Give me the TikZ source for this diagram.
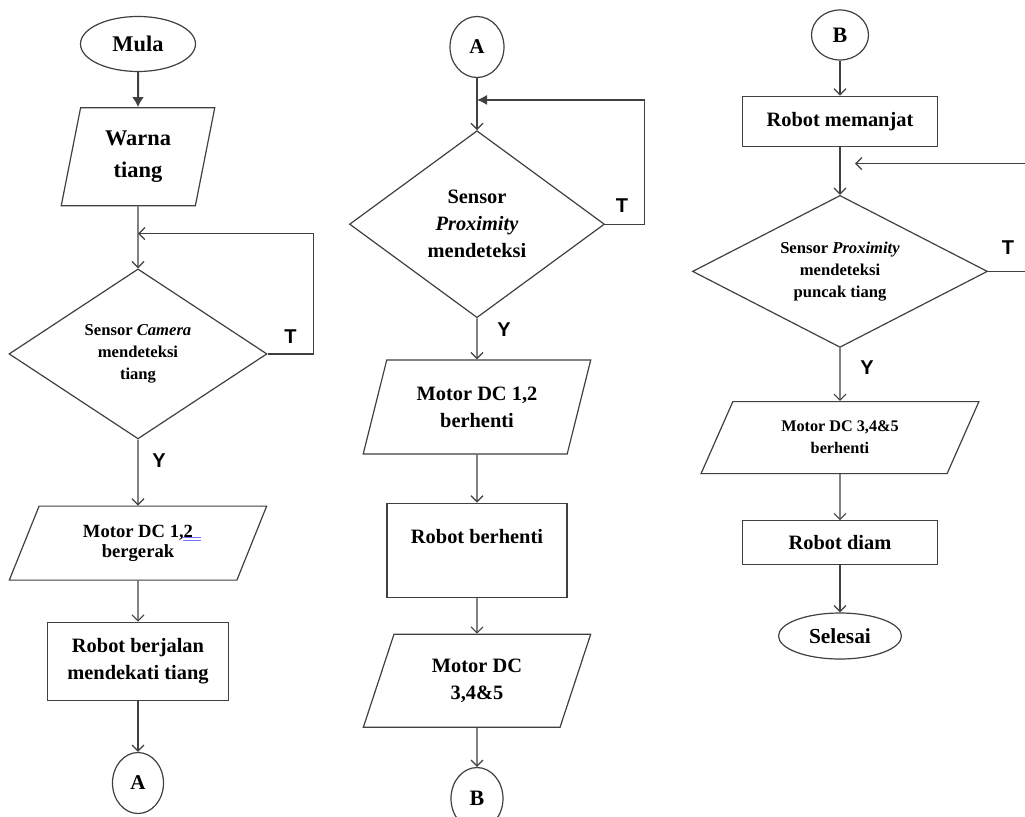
\documentclass[tikz,border=0pt]{standalone}
\usepackage{fontspec}
\setmainfont{Liberation Serif}
\newfontfamily\arialfont{Liberation Sans}
\usepackage{tikz}
\usetikzlibrary{shapes,positioning,calc}
\usetikzlibrary{shapes.geometric}
\usetikzlibrary{arrows.meta}
\colorlet{garis}{black!75}
\tikzstyle{arrow} = [garis,line width=0.6pt,-{Straight Barb[length=3pt,width=6pt]}]
\tikzstyle{arrowfill} = [garis,line width=0.6pt,-{Latex[length=5pt,width=5pt]}]
\newcommand{\hurufjudul}{\fontsize{11.2}{16}\selectfont\bfseries}
\newcommand{\hurufbesar}{\fontsize{10.2}{13.5}\selectfont\bfseries}
\newcommand{\hurufkecil}{\fontsize{8.3}{11}\selectfont\bfseries}

\begin{document}
\begin{tikzpicture}[x=0.5pt, y=-0.5pt,
	terminal/.style={ellipse, draw=garis, line width=0.6pt, inner sep=0pt, align=center},
	io/.style 2 args={trapezium, trapezium left angle=#1, trapezium right angle=#2, trapezium stretches=true, draw=garis, line width=0.6pt, inner sep=1pt, align=center},
	process/.style={rectangle, draw=garis, line width=0.6pt, inner sep=1pt, align=center},
	decision/.style={diamond, draw=garis, line width=0.6pt, inner sep=0pt, aspect=1.5, align=center},
	tanda/.style={font=\arialfont\fontsize{10}{12}\selectfont\bfseries, inner sep=0pt}]
			
			\useasboundingbox (0,0) rectangle (1025,817);
			\fill [white] (0,0) rectangle (1025,817);
			\clip (0,0) rectangle (1025,817);
			
			% KOLOM 1
			
			\node [terminal, minimum width=57.5pt, minimum height=27.5pt, font=\hurufjudul] (mula) at (138,44) {Mula};
			
			\node [io={78}{102}, minimum width=77pt, minimum height=49pt, font=\hurufjudul, below=17.5pt of mula] (warna) {Warna\\tiang};
			
			\node [decision, minimum width=129pt, minimum height=85pt, font=\hurufkecil, below=31pt of warna] (kamera) {Sensor \textit{Camera}\\mendeteksi\\tiang};
			
			\node [io={67}{113}, minimum width=129.5pt, minimum height=37pt, font=\fontsize{9.3}{10}\selectfont\bfseries, below=33pt of kamera] (motorjalan) {Motor DC 1,2\\bergerak};
			
			\node [process, minimum width=90.5pt, minimum height=39pt, font=\hurufbesar, below=20.5pt of motorjalan] (robotjalan) {Robot berjalan\\mendekati tiang};
			
			\node [terminal, minimum width=25.5pt, minimum height=30.5pt, font=\fontsize{10.5}{12}\selectfont\bfseries, below=25.5pt of robotjalan] (konA1) {A};
			
			\draw [garis, line width=1pt, -{Latex[length=5pt,width=6pt]}] (mula) -- (warna);
			\draw [arrow] (warna) -- (kamera);
			\draw [arrow] (kamera) -- (motorjalan);
			\draw [arrow] (motorjalan) -- (robotjalan);
			\draw [arrow] (robotjalan) -- (konA1);
			\coordinate (balikA) at ($(warna.south)!0.44!(kamera.north)$);
			\draw [arrow] (kamera.east) -- ++(46,0) |- (balikA);
			\node [tanda] (tidakA) at ($(kamera.east)+(23,-17)$) {T};
			\node [tanda] (yaA) at ($(kamera.south)+(21,21)$) {Y};
			\draw [blue!55, line width=0.5pt] ($(motorjalan.center)+(45,-5.5)$) -- ++(18,0);
			\draw [blue!55, line width=0.5pt] ($(motorjalan.center)+(45,-3)$) -- ++(18,0);
			
			% KOLOM 2
			
			\node [terminal, minimum width=27pt, minimum height=30.5pt, font=\fontsize{10.5}{12}\selectfont\bfseries] (konA2) at (477,47) {A};
			
			\node [decision, minimum width=127.5pt, minimum height=93.5pt, font=\hurufbesar, below=26pt of konA2] (proxi) {Sensor\\\textit{Proximity}\\mendeteksi};
			
			\node [io={70}{110}, minimum width=114pt, minimum height=47pt, font=\hurufbesar, below=20.5pt of proxi] (motorhenti) {Motor DC 1,2\\berhenti};
			
			\node [process, minimum width=90pt, minimum height=47pt, font=\hurufbesar, below=24pt of motorhenti] (robothenti) {Robot berhenti\\\mbox{}};
			
			\node [io={70}{110}, minimum width=114pt, minimum height=46.5pt, font=\hurufbesar, below=18pt of robothenti] (motorpanjat) {Motor DC\\3,4\&5};
			
			\node [terminal, minimum width=26pt, minimum height=31pt, font=\fontsize{11}{12}\selectfont\bfseries, below=19.5pt of motorpanjat] (konB1) {B};
			
			\draw [arrow] (konA2) -- (proxi);
			\draw [arrow] (proxi) -- (motorhenti);
			\draw [arrow] (motorhenti) -- (robothenti);
			\draw [arrow] (robothenti) -- (motorpanjat);
			\draw [arrow] (motorpanjat) -- (konB1);
			\coordinate (balikB) at ($(konA2.south)!0.42!(proxi.north)$);
			\draw [arrowfill] (proxi.east) -- ++(39,0) |- (balikB);
			\node [tanda] (tidakB) at ($(proxi.east)+(17,-19)$) {T};
			\node [tanda] (yaB) at ($(proxi.south)+(27,11)$) {Y};
			
			% KOLOM 3
			
			\node [terminal, minimum width=28.5pt, minimum height=25pt, font=\fontsize{11}{12}\selectfont\bfseries] (konB2) at (840,35) {B};
			
			\node [process, minimum width=97.5pt, minimum height=25pt, font=\hurufbesar, below=17.5pt of konB2] (panjat) {Robot memanjat};
			
			\node [decision, minimum width=147.5pt, minimum height=76pt, font=\hurufkecil, below=24pt of panjat] (puncak) {Sensor \textit{Proximity}\\mendeteksi\\puncak tiang};
			
			\node [io={64}{116}, minimum width=139pt, minimum height=36pt, font=\fontsize{8.1}{11}\selectfont\bfseries, below=26.5pt of puncak] (motordiam) {Motor DC 3,4\&5\\berhenti};
			
			\node [process, minimum width=97.5pt, minimum height=22pt, font=\hurufbesar, below=23pt of motordiam] (diam) {Robot diam};
			
			\node [terminal, minimum width=61.5pt, minimum height=23pt, font=\fontsize{10.7}{12}\selectfont\bfseries, below=23.5pt of diam] (selesai) {Selesai};
			
			\draw [arrow] (konB2) -- (panjat);
			\draw [arrow] (panjat) -- (puncak);
			\draw [arrow] (puncak) -- (motordiam);
			\draw [arrow] (motordiam) -- (diam);
			\draw [arrow] (diam) -- (selesai);
			\coordinate (balikC) at ($(panjat.south)!0.35!(puncak.north)+(15,0)$);
			\draw [arrow] (puncak.east) -- ++(60,0) |- (balikC);
			\node [tanda] (tidakC) at ($(puncak.east)+(20,-24)$) {T};
			\node [tanda] (yaC) at ($(puncak.south)+(27,20)$) {Y};
			
\end{tikzpicture}
\end{document}
